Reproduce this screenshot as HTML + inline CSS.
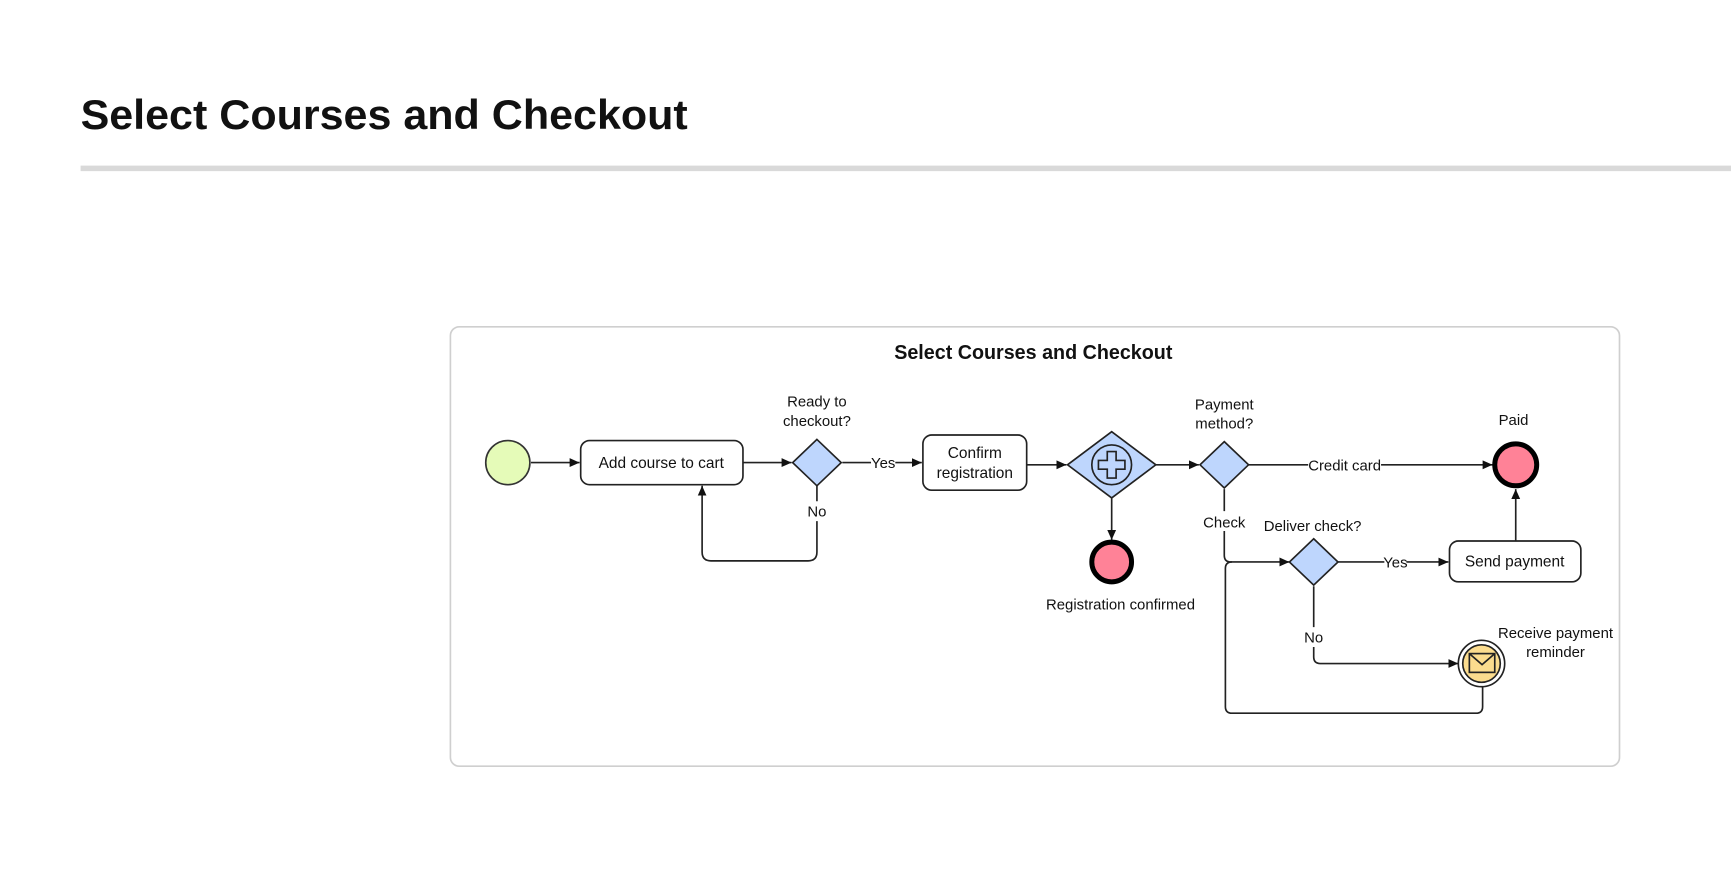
<!DOCTYPE html>
<html><head><meta charset="utf-8"><style>
html,body{margin:0;padding:0;background:#fff;width:1731px;height:870px;overflow:hidden}
svg{display:block}
text{font-family:"Liberation Sans",sans-serif;fill:#111}
</style></head><body>
<svg width="1731" height="870" viewBox="0 0 1568 788" preserveAspectRatio="none" xmlns="http://www.w3.org/2000/svg">
<defs>
<marker id="a" markerWidth="10" markerHeight="10" refX="9" refY="5" orient="auto" markerUnits="userSpaceOnUse">
<path d="M0,1 L9,5 L0,9 Z" fill="#111"/></marker>
</defs>
<text x="73" y="117" font-size="38" font-weight="bold" textLength="550" lengthAdjust="spacingAndGlyphs">Select Courses and Checkout</text>
<rect x="73" y="150" width="1495" height="5" fill="#d9d9d9"/>
<rect x="408" y="296" width="1059" height="398" rx="8" fill="#fff" stroke="#cfcfcf" stroke-width="1.5"/>
<text x="936" y="325" font-size="18" font-weight="bold" text-anchor="middle" textLength="252" lengthAdjust="spacingAndGlyphs">Select Courses and Checkout</text>

<g fill="none" stroke="#222" stroke-width="1.5">
<line x1="481" y1="419" x2="525" y2="419" marker-end="url(#a)"/>
<line x1="673" y1="419" x2="717" y2="419" marker-end="url(#a)"/>
<line x1="763" y1="419" x2="789" y2="419"/>
<line x1="811" y1="419" x2="835" y2="419" marker-end="url(#a)"/>
<path d="M740,440 V454 M740,472 V500 Q740,508 732,508 H644 Q636,508 636,500 V440" marker-end="url(#a)"/>
<line x1="930" y1="421" x2="966" y2="421" marker-end="url(#a)"/>
<line x1="1047" y1="421" x2="1086" y2="421" marker-end="url(#a)"/>
<line x1="1007" y1="451" x2="1007" y2="489" marker-end="url(#a)"/>
<line x1="1131" y1="421" x2="1185" y2="421"/>
<line x1="1251" y1="421" x2="1352" y2="421" marker-end="url(#a)"/>
<path d="M1109,443 V463 M1109,481 V503 Q1109,509 1115,509 H1168" marker-end="url(#a)"/>
<path d="M1343,622 V640 Q1343,646 1337,646 H1116 Q1110,646 1110,640 V515 Q1110,509 1116,509"/>
<line x1="1212" y1="509" x2="1254" y2="509"/>
<line x1="1274" y1="509" x2="1312" y2="509" marker-end="url(#a)"/>
<line x1="1373" y1="490" x2="1373" y2="443" marker-end="url(#a)"/>
<path d="M1190,531 V568 M1190,586 V595 Q1190,601 1196,601 H1321" marker-end="url(#a)"/>
</g>

<circle cx="460" cy="419" r="20" fill="#e5fbb8" stroke="#333" stroke-width="1.5"/>
<rect x="526" y="399" width="147" height="40" rx="8" fill="#fff" stroke="#222" stroke-width="1.5"/>
<text x="599" y="424" font-size="14" text-anchor="middle">Add course to cart</text>
<path d="M740,398 L762,419 L740,440 L718,419 Z" fill="#bed6fd" stroke="#222" stroke-width="1.5"/>
<text x="740" y="368" font-size="13.5" text-anchor="middle">Ready to</text>
<text x="740" y="386" font-size="13.5" text-anchor="middle">checkout?</text>
<text x="800" y="424" font-size="13.5" text-anchor="middle">Yes</text>
<text x="740" y="468" font-size="13.5" text-anchor="middle">No</text>
<rect x="836" y="394" width="94" height="50" rx="8" fill="#fff" stroke="#222" stroke-width="1.5"/>
<text x="883" y="415" font-size="14" text-anchor="middle">Confirm</text>
<text x="883" y="433" font-size="14" text-anchor="middle">registration</text>
<path d="M1007,391 L1047,421 L1007,451 L967,421 Z" fill="#bed6fd" stroke="#222" stroke-width="1.5"/>
<circle cx="1007" cy="421" r="18" fill="none" stroke="#222" stroke-width="1.5"/>
<path d="M1003,409 h8 v8 h8 v8 h-8 v8 h-8 v-8 h-8 v-8 h8 Z" fill="none" stroke="#222" stroke-width="1.5"/>
<circle cx="1007" cy="509" r="18" fill="#ff8297" stroke="#000" stroke-width="4.5"/>
<text x="1015" y="552" font-size="13.5" text-anchor="middle">Registration confirmed</text>
<path d="M1109,400 L1131,421 L1109,442 L1087,421 Z" fill="#bed6fd" stroke="#222" stroke-width="1.5"/>
<text x="1109" y="371" font-size="13.5" text-anchor="middle">Payment</text>
<text x="1109" y="388" font-size="13.5" text-anchor="middle">method?</text>
<text x="1218" y="426" font-size="13.5" text-anchor="middle">Credit card</text>
<circle cx="1373" cy="421" r="19" fill="#ff8297" stroke="#000" stroke-width="4.5"/>
<text x="1371" y="385" font-size="13.5" text-anchor="middle">Paid</text>
<text x="1109" y="478" font-size="13.5" text-anchor="middle">Check</text>
<path d="M1190,488 L1212,509 L1190,530 L1168,509 Z" fill="#bed6fd" stroke="#222" stroke-width="1.5"/>
<text x="1189" y="481" font-size="13.5" text-anchor="middle">Deliver check?</text>
<text x="1264" y="514" font-size="13.5" text-anchor="middle">Yes</text>
<rect x="1313" y="490" width="119" height="37" rx="8" fill="#fff" stroke="#222" stroke-width="1.5"/>
<text x="1372" y="513" font-size="14" text-anchor="middle">Send payment</text>
<text x="1190" y="582" font-size="13.5" text-anchor="middle">No</text>
<circle cx="1342" cy="601" r="21" fill="#fff" stroke="#222" stroke-width="1.5"/>
<circle cx="1342" cy="601" r="17" fill="#fbdc8e" stroke="#222" stroke-width="1.5"/>
<rect x="1331" y="592" width="23" height="17" fill="#fbdc8e" stroke="#222" stroke-width="1.5"/>
<path d="M1331,592 L1342.5,602 L1354,592" fill="none" stroke="#222" stroke-width="1.5"/>
<text x="1409" y="578" font-size="13.5" text-anchor="middle">Receive payment</text>
<text x="1409" y="595" font-size="13.5" text-anchor="middle">reminder</text>
</svg>
</body></html>
